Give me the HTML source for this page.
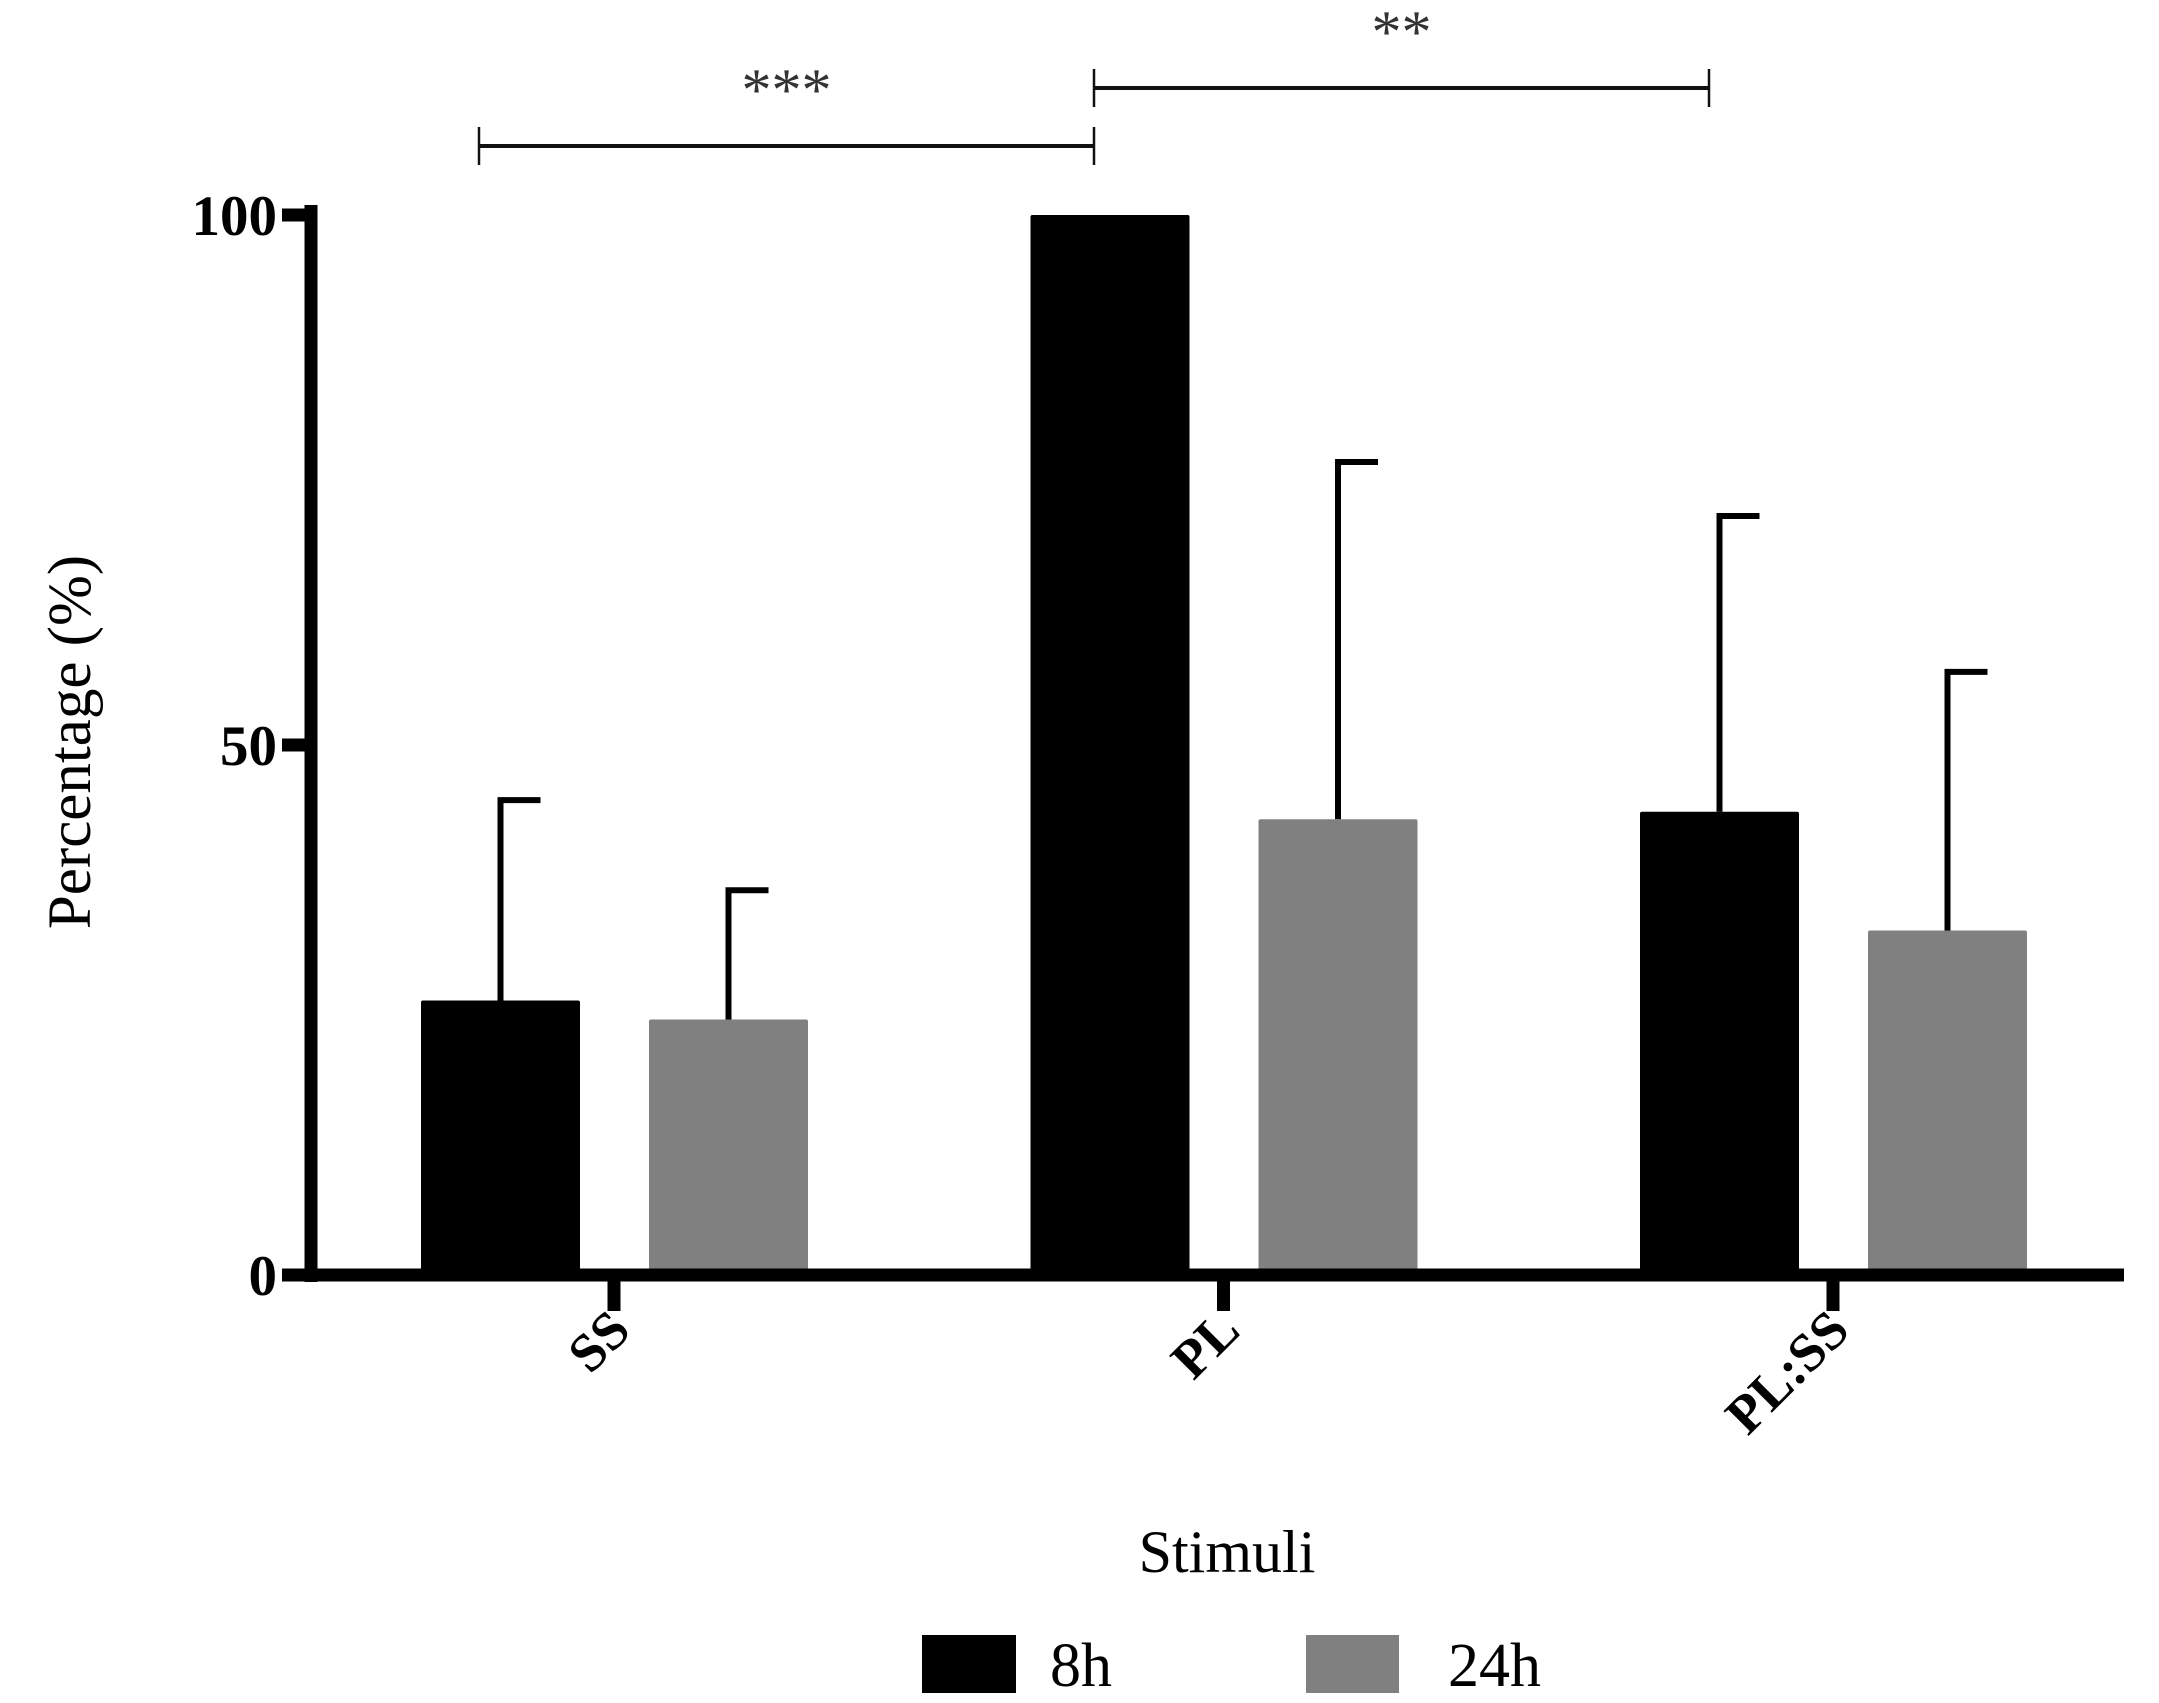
<!DOCTYPE html>
<html><head><meta charset="utf-8"><style>html,body{margin:0;padding:0;background:#fff}svg{display:block}</style></head>
<body>
<svg id="chart" width="2159" height="1703" viewBox="0 0 2159 1703" xmlns="http://www.w3.org/2000/svg" font-family="'Liberation Serif', serif">
<g id="bars"></g>
<g id="axes"></g>
<g id="sig"></g>
<text transform="translate(90,742) rotate(-90)" text-anchor="middle" font-size="61">Percentage (%)</text>
<text x="1227" y="1572" text-anchor="middle" font-size="60">Stimuli</text>
<g>
<rect x="922" y="1635" width="94" height="58" fill="#000"/>
<text x="1050" y="1686" font-size="62">8h</text>
<rect x="1306" y="1635" width="93" height="58" fill="#808080"/>
<text x="1448" y="1686" font-size="62">24h</text>
</g>
</svg>
<script>
const categories = ["SS", "PL", "PL:SS"];
const means8h = [25.9, 100, 43.7];
const err8h = [18.9, 0, 27.9];
const means24h = [24.1, 43.0, 32.5];
const err24h = [12.2, 33.7, 24.4];
const yTicks = [0, 50, 100];
const NS = "http://www.w3.org/2000/svg";
const y0 = 1275, y100 = 215;
function yScale(v){ return y0 - (y0 - y100) * v / 100; }
const catCenters = [614, 1223, 1833];
function xCat(i){ return catCenters[0] + i * (catCenters[2]-catCenters[0])/2; }
function mk(tag, attrs, parent){ const e=document.createElementNS(NS,tag); for(const k in attrs) e.setAttribute(k,attrs[k]); parent.appendChild(e); return e; }
const bars=document.getElementById('bars'), axes=document.getElementById('axes'), sig=document.getElementById('sig');
const bw=159;
categories.forEach((c,i)=>{
  const cx=xCat(i);
  [[means8h,err8h,"#000",-193,"8h"],[means24h,err24h,"#808080",35,"24h"]].forEach(([m,e,col,off,s])=>{
    const x=cx+off, top=yScale(m[i]);
    if(e[i]>0){
      const et=yScale(m[i]+e[i]);
      const l=mk('line',{x1:x+bw/2,x2:x+bw/2,y1:top,y2:et,stroke:"#000","stroke-width":6},bars);
      
      
      const cap=mk('line',{x1:x+bw/2-3,x2:x+bw/2+40,y1:et,y2:et,stroke:"#000","stroke-width":6},bars);
      
      
    }
    const r=mk('rect',{x:x,y:top,width:bw,height:y0-top,fill:col,rx:2},bars);
    
    
  });
  const t=mk('line',{x1:cx,x2:cx,y1:y0,y2:1311,stroke:"#000","stroke-width":13},axes);
  
  
  const lb=mk('text',{transform:`translate(${cx-8},1306) rotate(-45)`,"text-anchor":"end","font-size":"54","font-weight":"bold",dy:"0.7em"},axes);
  lb.textContent=c;
  
  
});
const ya=mk('line',{x1:311,x2:311,y1:205,y2:1282,stroke:"#000","stroke-width":13},axes);


const xa=mk('line',{x1:304,x2:2124,y1:y0,y2:y0,stroke:"#000","stroke-width":13},axes);


yTicks.forEach(v=>{
  const y=yScale(v);
  const tk=mk('line',{x1:282,x2:311,y1:y,y2:y,stroke:"#000","stroke-width":13},axes);
  
  
  const tl=mk('text',{x:277,y:y+20,"text-anchor":"end","font-size":"57","font-weight":"bold"},axes);
  tl.textContent=v;
  
  
});
function bracket(x1,x2,y,label,name){
  const g=mk('g',{},sig);
  
  
  mk('line',{x1:x1,x2:x2,y1:y,y2:y,stroke:"#111","stroke-width":4},g);
  mk('line',{x1:x1,x2:x1,y1:y-19,y2:y+19,stroke:"#111","stroke-width":2.5},g);
  mk('line',{x1:x2,x2:x2,y1:y-19,y2:y+19,stroke:"#111","stroke-width":2.5},g);
  const t=mk('text',{x:(x1+x2)/2,y:y-36,"text-anchor":"middle","font-size":"60",fill:"#333"},g);
  t.textContent=label;
}
bracket(479,1094,146,"***","bracket-ss-pl");
bracket(1094,1709,88,"**","bracket-pl-plss");
</script>
</body></html>
